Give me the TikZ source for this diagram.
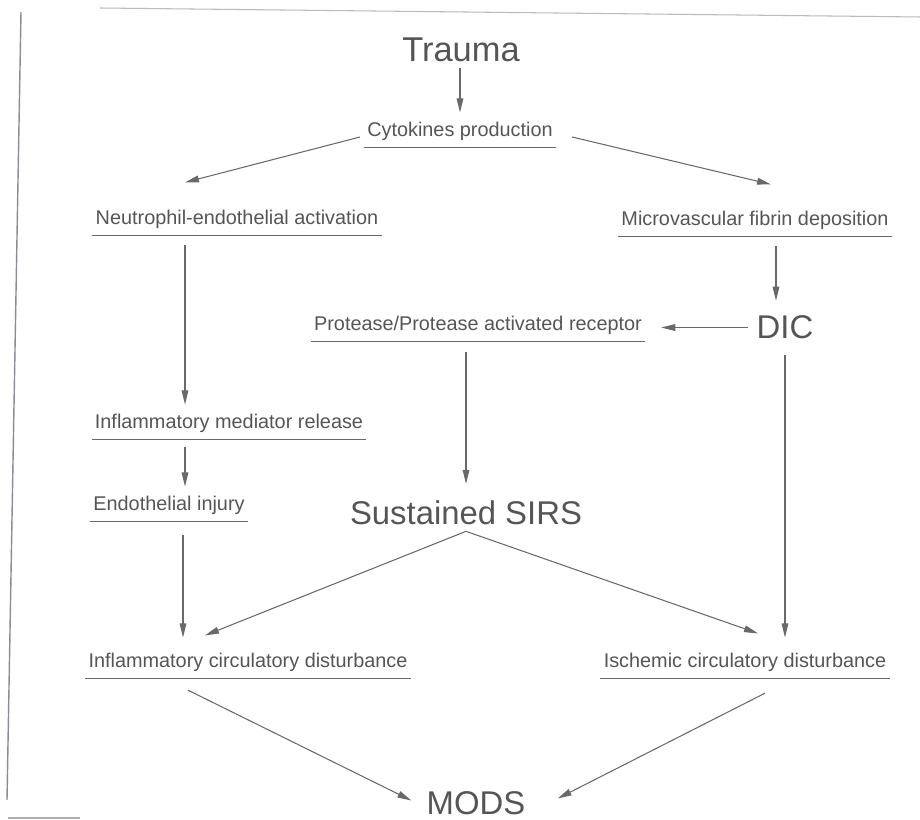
\documentclass[tikz,border=0pt]{standalone}
\usepackage{fontspec}
\setmainfont{Liberation Sans}
\usepackage{tikz}
\usetikzlibrary{arrows.meta,calc,positioning}
\definecolor{inkgray}{RGB}{85,85,85}
\definecolor{linegray}{RGB}{105,105,105}
\definecolor{pagegray}{RGB}{140,140,150}

\begin{document}
\begin{tikzpicture}
              [x=0.02cm,y=-0.02cm,
                every node/.style={rectangle,draw=none,fill=none,text=inkgray,anchor=base,text depth=0pt},
                word/.style={font=\fontsize{11.3}{13}\selectfont,inner xsep=1.7pt,inner ysep=5.6pt},
                big/.style={font=\fontsize{18.7}{22}\selectfont,inner xsep=1.7pt,inner ysep=3.4pt},
                uline/.style={draw=linegray,line width=0.7pt},
                arr/.style={draw=linegray,line width=0.6pt,-{Triangle[length=8pt,width=3.8pt]}}]
              \useasboundingbox (0,0) rectangle (920,820);
              % page edges of the scan
              \draw[pagegray!60,line width=0.6pt] (100,8) -- (920,17);
              \draw[pagegray,line width=0.8pt] (21,12) -- (7,800);
              \draw[pagegray!70,line width=0.8pt] (8,818) -- (80,818);
              % columns
              \coordinate (colL) at (185,0);
              \coordinate (colR) at (776,0);
              % nodes
              \node[big] (trauma) at (461,62) {\fontsize{19.6}{22}\selectfont Trauma};
              \node[word] (cyto) at (460,137) {Cytokines production};
              \node[word] (neut) at (237,225) {Neutrophil-endothelial activation};
              \node[word] (micro) at (755,226) {Microvascular fibrin deposition};
              \node[word] (prot) at (478,331) {Protease/Protease activated receptor};
              \node[big] (dic) at (785,339) {DIC};
              \node[word] (med) at (229,429) {Inflammatory mediator release};
              \node[word] (endo) at (169,511) {Endothelial injury};
              \node[big] (sirs) at (466,525) {Sustained SIRS};
              \node[word] (icd) at (248,668) {Inflammatory circulatory disturbance};
              \node[word] (isch) at (745,668) {Ischemic circulatory disturbance};
              \node[big] (mods) at (476,814) {MODS};
              \foreach \n in {cyto,neut,micro,prot,med,endo,icd,isch}
                \draw[uline] (\n.south west) -- (\n.south east);
              % arrows
              \draw[arr] (trauma.south -| cyto.north) -- (cyto.north);
              \draw[arr] ($(cyto.base west)+(-4,0)$) -- ($(neut.north -| colL)+(0,-18)$);
              \draw[arr] ($(cyto.base east)+(16,0)$) -- ($(micro.north -| colR)+(-5,-17)$);
              \draw[arr] ($(neut.south -| colL)+(0,10)$) -- (med.north -| colL);
              \draw[arr] ($(micro.south -| colR)+(0,10)$) -- ($(dic.north -| colR)+(0,-9)$);
              \draw[arr] ($(dic.west)+(-5,0)$) -- ($(dic.west -| prot.east)+(16,0)$);
              \draw[arr] ($(prot.south -| sirs.north)+(0,11)$) -- ($(sirs.north)+(0,-11)$);
              \draw[arr] ($(dic.south)+(0,10)$) -- ($(dic.south |- isch.north)+(0,-6)$);
              \draw[arr] ($(med.south -| colL)+(0,8)$) -- (endo.north -| colL);
              \draw[arr] ($(endo.south -| colL)+(-2,14)$) -- ($(icd.north -| colL)+(-2,-6)$);
              \draw[arr] (sirs.south) -- ($(icd.north -| colL)+(20,-8)$);
              \draw[arr] (sirs.south) -- ($(isch.north -| colR)+(-18,-10)$);
              \draw[arr] ($(icd.south -| colL)+(3,12)$) -- ($(mods.west)+(-12,-2)$);
              \draw[arr] ($(isch.south -| colR)+(-11,15)$) -- ($(mods.east)+(29,-4)$);
            \end{tikzpicture}
\end{document}
